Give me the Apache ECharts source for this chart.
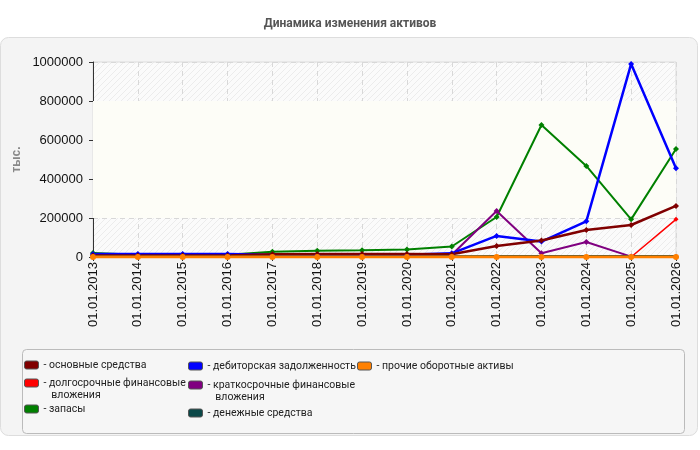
<!DOCTYPE html>
<html>
<head>
<meta charset="utf-8">
<script src="https://cdn.jsdelivr.net/npm/echarts@6/dist/echarts.min.js"></script>
<style>
  html, body { margin: 0; padding: 0; background: #fff; }
  #chart { width: 700px; height: 450px; }
</style>
</head>
<body>
<div id="chart"></div>
<script>
  // даты отчётности
  var dates = ['01.01.2013', '01.01.2014', '01.01.2015', '01.01.2016', '01.01.2017', '01.01.2018', '01.01.2019',
    '01.01.2020', '01.01.2021', '01.01.2022', '01.01.2023', '01.01.2024', '01.01.2025', '01.01.2026'];

  var osnovnye = [8000, 8000, 8000, 8000, 14000, 15000, 15000, 15000, 14000, 56000, 85000, 138000, 164000, 262000];
  var dolgosrochnye = [0, 0, 0, 0, 0, 0, 0, 0, 0, 0, 0, 0, 0, 193000];
  var zapasy = [21000, 11000, 11000, 11000, 27000, 32000, 35000, 39000, 54000, 205000, 677000, 467000, 193000, 554000];
  var debitorskaya = [15000, 16000, 16000, 16000, 12000, 12000, 12000, 12000, 19000, 108000, 79000, 183000, 990000, 455000];
  var kratkosrochnye = [10000, 10000, 10000, 10000, 10000, 10000, 10000, 10000, 12000, 236000, 19000, 77000, 2000, 0];
  var denezhnye = [3000, 3000, 3000, 3000, 3000, 3000, 3000, 3000, 4000, 5000, 5000, 5000, 5000, 5000];
  var prochie = [0, 0, 0, 0, 0, 0, 0, 0, 0, 0, 0, 0, 0, 0];

  var yTicks = [0, 200000, 400000, 600000, 800000, 1000000];

  var names = ['основные средства', 'долгосрочные финансовые вложения', 'запасы', 'дебиторская задолженность',
    'краткосрочные финансовые вложения', 'денежные средства', 'прочие оборотные активы'];
  // пустая первая строка, чтобы значок стоял напротив первой строки подписи
  var legendText = {
    'долгосрочные финансовые вложения': '\n- долгосрочные финансовые\n   вложения',
    'краткосрочные финансовые вложения': '\n- краткосрочные финансовые\n   вложения'
  };
  var legendPos = [
    [24, 359], [24, 365], [24, 403],
    [188, 360], [188, 367], [188, 407],
    [357, 360]
  ];

  var font = 'Roboto, Liberation Sans, sans-serif';

  // штриховка фона
  var hatch = document.createElement('canvas');
  hatch.width = 6; hatch.height = 6;
  var hc = hatch.getContext('2d');
  hc.fillStyle = '#fbfbfb';
  hc.fillRect(0, 0, 6, 6);
  hc.strokeStyle = '#ececec';
  hc.lineWidth = 1;
  hc.beginPath();
  hc.moveTo(0, 6); hc.lineTo(6, 0);
  hc.moveTo(-1, 1); hc.lineTo(1, -1);
  hc.moveTo(5, 7); hc.lineTo(7, 5);
  hc.stroke();

  function makeSeries(name, data, color, width, symbol, size) {
    return {
      name: name,
      type: 'line',
      data: data,
      symbol: symbol,
      symbolSize: size,
      showSymbol: true,
      lineStyle: { color: color, width: width },
      itemStyle: { color: color },
      emphasis: { disabled: true },
      animation: false
    };
  }

  var series = [
    makeSeries(names[2], zapasy, '#008000', 2, 'diamond', 6),
    makeSeries(names[4], kratkosrochnye, '#800080', 2, 'diamond', 6),
    makeSeries(names[3], debitorskaya, '#0000ff', 2.5, 'diamond', 6),
    makeSeries(names[0], osnovnye, '#800000', 2.5, 'diamond', 6),
    makeSeries(names[5], denezhnye, '#0b4848', 2, 'none', 0),
    makeSeries(names[1], dolgosrochnye, '#ff0000', 1.5, 'diamond', 5),
    makeSeries(names[6], prochie, '#ff8000', 3, 'circle', 6)
  ];
  series[0].markArea = {
    silent: true,
    itemStyle: { color: '#fdfdf7' },
    data: [[{ yAxis: 200000 }, { yAxis: 800000 }]]
  };

  var legends = names.map(function (n, i) {
    return {
      orient: 'vertical',
      left: legendPos[i][0],
      top: legendPos[i][1],
      padding: 0,
      itemWidth: 14,
      itemHeight: 8,
      icon: 'roundRect',
      selectedMode: false,
      itemStyle: { borderColor: '#555', borderWidth: 1 },
      textStyle: { fontFamily: font, fontSize: 10.5, color: '#222', lineHeight: 12 },
      formatter: function (name) { return legendText[name] || ('- ' + name); },
      data: [n]
    };
  });

  var chart = echarts.init(document.getElementById('chart'), null, { renderer: 'canvas' });
  chart.setOption({
    backgroundColor: '#fff',
    animation: false,
    title: {
      text: 'Динамика изменения активов',
      left: 'center',
      top: 13,
      textStyle: { fontFamily: font, fontSize: 12, fontWeight: 'bold', color: '#555' }
    },
    graphic: [
      {
        type: 'rect', z: -10, silent: true,
        shape: { x: 0.5, y: 37.5, width: 697, height: 398, r: 8 },
        style: { fill: '#f4f4f4', stroke: '#dddddd', lineWidth: 1 }
      },
      {
        type: 'rect', z: -5, silent: true,
        shape: { x: 22.5, y: 349.5, width: 662, height: 84, r: 4 },
        style: { fill: '#f6f6f6', stroke: '#bbbbbb', lineWidth: 1 }
      }
    ],
    legend: legends,
    grid: {
      left: 93, right: 24, top: 62, bottom: 193,
      show: true,
      backgroundColor: { image: hatch, repeat: 'repeat' },
      borderColor: '#dddddd',
      borderWidth: 1
    },
    xAxis: {
      type: 'category',
      data: dates,
      boundaryGap: false,
      axisLine: { lineStyle: { color: '#333', width: 1 } },
      axisTick: { show: true, length: 4, lineStyle: { color: '#333' } },
      axisLabel: { rotate: 90, margin: 5, fontFamily: 'Liberation Sans, Arial', fontSize: 13, color: '#111' },
      splitLine: { show: true, lineStyle: { color: '#d8d8d8', type: [5, 4] } }
    },
    yAxis: {
      type: 'value',
      min: yTicks[0],
      max: yTicks[yTicks.length - 1],
      interval: yTicks[1] - yTicks[0],
      name: 'тыс.',
      nameLocation: 'middle',
      nameRotate: 90,
      nameGap: 70,
      nameMoveOverlap: false,
      nameTextStyle: { fontFamily: 'Liberation Sans, Arial', fontSize: 12, fontWeight: 'bold', color: '#888' },
      axisLine: { show: true, lineStyle: { color: '#333', width: 1 } },
      axisTick: { show: true, length: 4, lineStyle: { color: '#333' } },
      axisLabel: {
        margin: 10, fontFamily: 'Liberation Sans, Arial', fontSize: 13, color: '#111',
        formatter: function (v) { return String(v); }
      },
      splitLine: { show: true, lineStyle: { color: '#d8d8d8', type: [5, 4] } }
    },
    series: series
  });
</script>
</body>
</html>
